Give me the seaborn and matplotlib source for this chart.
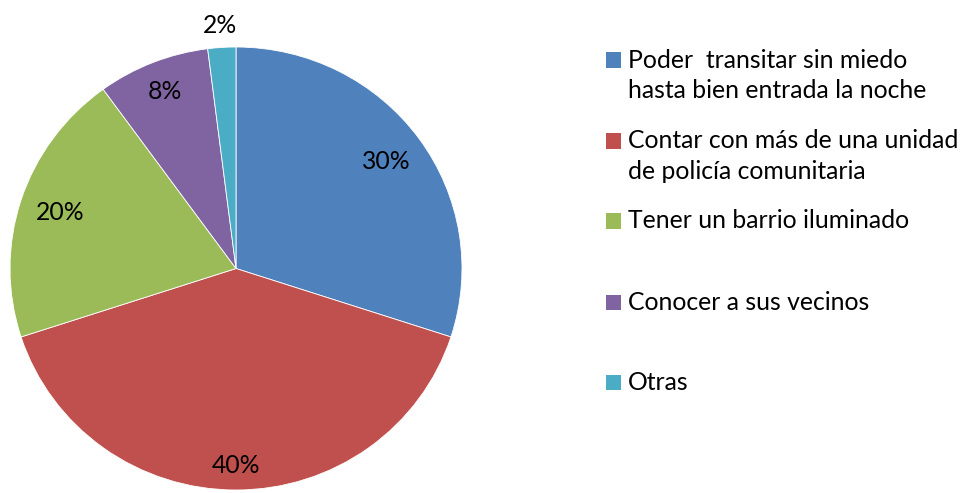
import matplotlib
matplotlib.use("Agg")
import matplotlib.pyplot as plt
import seaborn as sns
import numpy as np
from matplotlib.patches import Rectangle

categories = [
    "Poder  transitar sin miedo\nhasta bien entrada la noche",
    "Contar con más de una unidad\nde policía comunitaria",
    "Tener un barrio iluminado",
    "Conocer a sus vecinos",
    "Otras",
]
values = [30, 40, 20, 8, 2]
pct_labels = ["30%", "40%", "20%", "8%", "2%"]
colors = ["#4F81BD", "#C0504D", "#9BBB59", "#8064A2", "#4BACC6"]
label_radius = [0.82, 0.89, 0.82, 0.86, 1.10]

sns.set_theme(style="white")
plt.rcParams["font.family"] = ["Lato", "DejaVu Sans"]
FS = 17.8

W, H = 962, 493
fig = plt.figure(figsize=(W / 100, H / 100), dpi=100)
# pie bounding box in pixels: x 10..462, y 47..490 (from top)
x0, x1, yt, yb = 10, 462, 47, 490
ax = fig.add_axes([x0 / W, 1 - yb / H, (x1 - x0) / W, (yb - yt) / H])
wedges, _ = ax.pie(values, colors=colors, startangle=90, counterclock=False,
                   radius=1.0, wedgeprops=dict(edgecolor="white", linewidth=0.6))
ax.set_aspect("auto")
ax.set_xlim(-1, 1)
ax.set_ylim(-1, 1)
ax.axis("off")

for w, lab, r in zip(wedges, pct_labels, label_radius):
    ang = np.deg2rad((w.theta1 + w.theta2) / 2)
    ax.text(r * np.cos(ang), r * np.sin(ang), lab, ha="center", va="center",
            fontsize=FS, color="black", clip_on=False)

# legend
marker_centers = [60, 141, 221, 302, 382]
for c, lab, yc in zip(colors, categories, marker_centers):
    fig.patches.append(Rectangle((606 / W, 1 - (yc + 7.5) / H), 15 / W, 15 / H,
                                 transform=fig.transFigure, facecolor=c,
                                 edgecolor="none"))
    fig.text(628 / W, 1 - yc / H, lab.split("\n")[0], ha="left", va="center",
             fontsize=FS, color="black")
    if "\n" in lab:
        fig.text(628 / W, 1 - (yc + 31) / H, lab.split("\n")[1], ha="left",
                 va="center", fontsize=FS, color="black")

fig.savefig("out.png", dpi=100, facecolor="white")
